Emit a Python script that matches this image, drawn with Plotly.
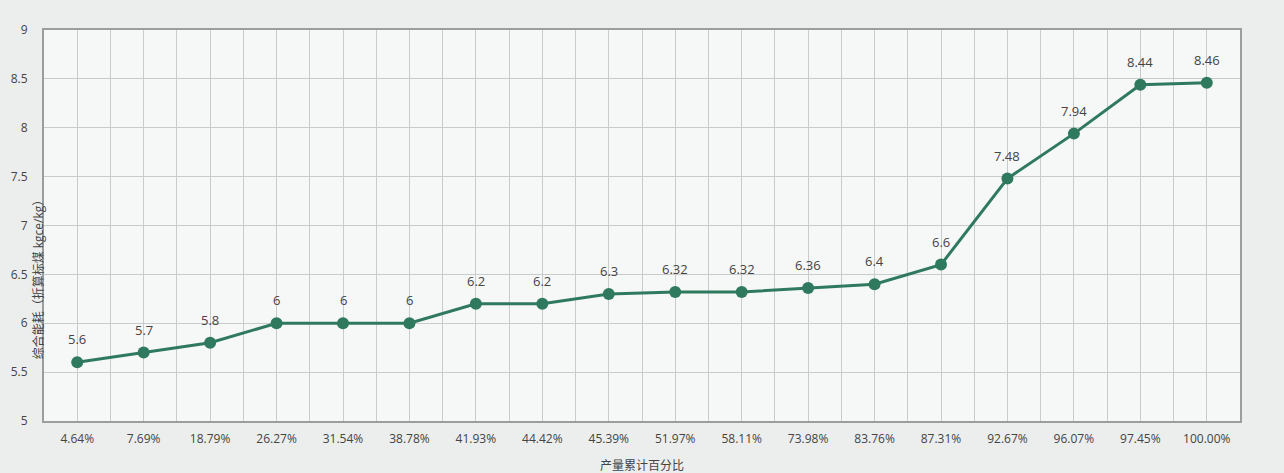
import plotly.graph_objects as go

categories = ["4.64%", "7.69%", "18.79%", "26.27%", "31.54%", "38.78%", "41.93%", "44.42%",
              "45.39%", "51.97%", "58.11%", "73.98%", "83.76%", "87.31%", "92.67%", "96.07%",
              "97.45%", "100.00%"]
energy = [5.6, 5.7, 5.8, 6, 6, 6, 6.2, 6.2, 6.3, 6.32, 6.32, 6.36, 6.4, 6.6, 7.48, 7.94, 8.44, 8.46]
y_ticks = [5, 5.5, 6, 6.5, 7, 7.5, 8, 8.5, 9]

xpos = list(range(len(categories)))
color = "#2f7a5f"

fig = go.Figure()
fig.add_trace(go.Scatter(
    x=xpos, y=energy, mode="lines+markers",
    line=dict(color=color, width=3),
    marker=dict(color=color, size=12),
    cliponaxis=False, showlegend=False,
))
for xv, yv in zip(xpos, energy):
    fig.add_annotation(x=xv, y=yv, text=str(yv), showarrow=False, yanchor="bottom",
                       yshift=12, font=dict(size=13, color="#444"))

fig.update_layout(
    width=1284, height=473,
    margin=dict(l=44, r=44, t=30, b=52),
    paper_bgcolor="#eceeed", plot_bgcolor="#f6f7f7",
    font=dict(family="Open Sans, Noto Sans CJK SC", size=12, color="#444"),
)
fig.update_xaxes(
    range=[-0.5, len(categories) - 0.5],
    tickmode="array", tickvals=xpos, ticktext=categories,
    showgrid=True, gridcolor="#c9cccc", gridwidth=1,
    minor=dict(dtick=1, tick0=0.5, showgrid=True, gridcolor="#c9cccc", gridwidth=1),
    showline=True, linecolor="#9a9e9e", linewidth=2, mirror=True,
    ticks="", zeroline=False, ticklabelstandoff=6,
    tickfont=dict(size=12, color="#444"),
)
fig.update_yaxes(
    range=[5, 9], tickmode="array", tickvals=y_ticks, ticktext=[str(v) for v in y_ticks],
    showgrid=True, gridcolor="#c9cccc", gridwidth=1,
    showline=True, linecolor="#9a9e9e", linewidth=2, mirror=True,
    ticks="", zeroline=False, ticklabelstandoff=12,
    tickfont=dict(size=12, color="#444"),
)
fig.add_annotation(
    text="综合能耗（折算标煤 kgce/kg）", textangle=-90,
    xref="paper", yref="paper", x=0, y=0.37, xanchor="center", yanchor="middle",
    xshift=-6, showarrow=False, font=dict(size=12, color="#444"),
)
fig.add_annotation(
    text="产量累计百分比", xref="paper", yref="paper", x=0.5, y=0,
    yanchor="top", yshift=-34, showarrow=False, font=dict(size=12, color="#444"),
)

fig.write_html("out.html")
